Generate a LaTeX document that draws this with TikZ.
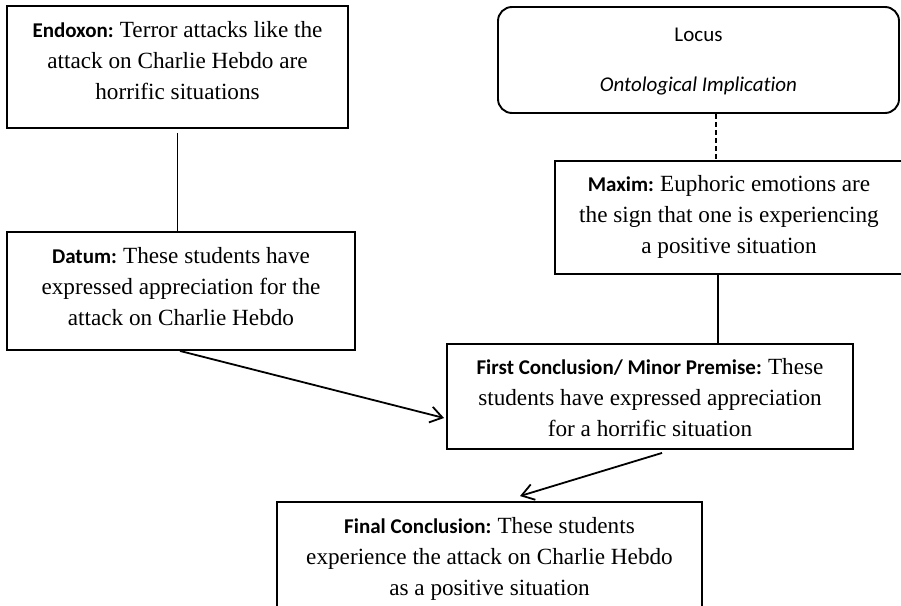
\documentclass[tikz,border=0pt]{standalone}
\usepackage{fontspec}
\setmainfont{Liberation Serif}
\newfontfamily\calfont[Ligatures=NoCommon]{Carlito}
\usetikzlibrary{arrows.meta}
\newcommand\tnrsize{\fontsize{23.2}{31}\selectfont}
\newcommand\lab[1]{{\calfont\bfseries\fontsize{21}{31}\selectfont #1}\kern-1.5pt\relax}
\tikzset{
  box/.style={draw, line width=1.9pt, inner sep=0pt},
  txt/.style={inner sep=0pt, align=center, font=\tnrsize},
  conn/.style={line width=1.8pt},
  dconn/.style={line width=1.4pt, dash pattern=on 5pt off 3pt},
  arr/.style={conn, -{Straight Barb[length=12pt,width=16pt,line width=1.8pt]}},
}
\begin{document}
\begin{tikzpicture}[x=1pt,y=-1pt]
\useasboundingbox (0,0) rectangle (901,605);
\fill[white] (0,0) rectangle (901,605);
\clip (0,0) rectangle (901,605);

\node[box, minimum width=341pt, minimum height=122pt] (endoxon) at (177.5,67) {};
\node[txt] (endoxon-t) at ([yshift=6pt]endoxon.center)
  {\lab{Endoxon:} Terror attacks like the\\attack on Charlie Hebdo are\\horrific situations};

\node[box, minimum width=348pt, minimum height=118pt] (datum) at (181,291) {};
\node[txt] (datum-t) at ([yshift=4.5pt]datum.center)
  {\lab{Datum:} These students have\\expressed appreciation for the\\attack on Charlie Hebdo};

\node[box, rounded corners=14pt, minimum width=401pt, minimum height=106pt] (locus) at (698.5,60) {};
\node[txt, font=\calfont\fontsize{21}{31}\selectfont] (locus-t) at ([yshift=-2pt]locus.center)
  {Locus\\[19pt]\itshape Ontological Implication};

\node[box, minimum width=348pt, minimum height=113pt] (maxim) at (729,217.5) {};
\node[txt] (maxim-t) at ([yshift=0.5pt]maxim.center)
  {\lab{Maxim:} Euphoric emotions are\\the sign that one is experiencing\\a positive situation};

\node[box, minimum width=406pt, minimum height=105pt] (first) at (650,396.5) {};
\node[txt] (first-t) at ([yshift=-1.5pt]first.center)
  {\lab{First Conclusion/ Minor Premise:} These\\students have expressed appreciation\\for a horrific situation};

\node[box, minimum width=425pt, minimum height=122pt] (final) at (489.5,563) {};
\node[txt] (final-t) at ([yshift=4pt]final.center)
  {\lab{Final Conclusion:} These students\\experience the attack on Charlie Hebdo\\as a positive situation};

\draw[conn] ([yshift=-4pt]endoxon.south) -- (endoxon.south |- datum.north);
\draw[dconn] ([xshift=17.5pt]locus.south) -- ([xshift=17.5pt]locus.south |- maxim.north);
\draw[conn] ([xshift=-11pt]maxim.south) -- ([xshift=-11pt]maxim.south |- first.north);
\draw[arr] ([xshift=-1pt]datum.south) -- ([xshift=-2pt,yshift=-21.5pt]first.west);
\draw[arr] ([xshift=12pt,yshift=-3pt]first.south) -- ([xshift=30.5pt,yshift=5pt]final.north);
\end{tikzpicture}
\end{document}
